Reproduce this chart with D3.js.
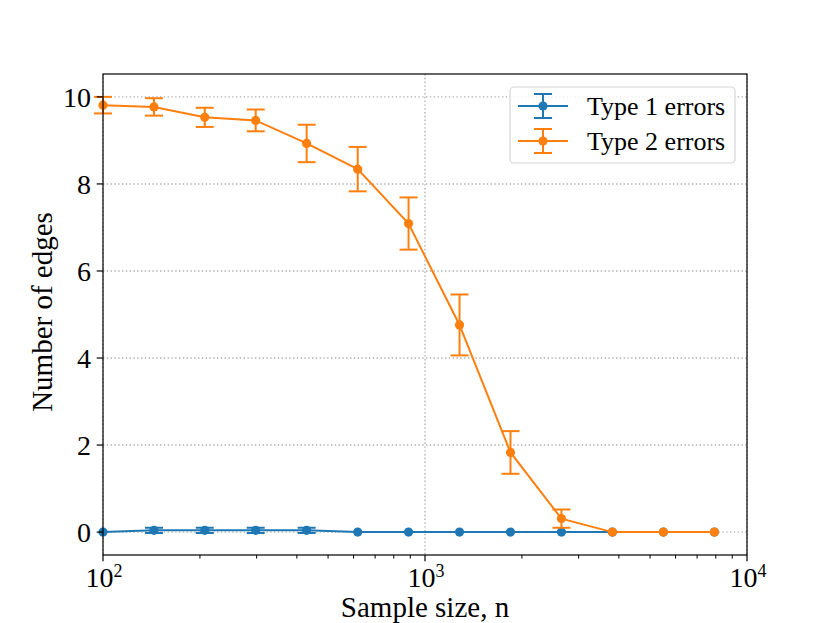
<!DOCTYPE html>
<html><head><meta charset="utf-8">
<script src="https://cdn.jsdelivr.net/npm/d3@7"></script>
<style>body{margin:0;background:#fff}svg{display:block}text{font-family:"Liberation Serif","DejaVu Serif",serif;fill:#000}</style>
</head><body><svg id="c" width="830" height="623"></svg>
<script>
const sampleSizes = [100, 144, 207, 298, 429, 618, 889, 1280, 1843, 2653, 3820, 5500, 7920];
const type1Mean = [0, 0.04, 0.04, 0.04, 0.04, 0, 0, 0, 0, 0, 0, 0, 0];
const type1Err  = [0, 0.06, 0.06, 0.06, 0.06, 0, 0, 0, 0, 0, 0, 0, 0];
const type2Mean = [9.81, 9.77, 9.53, 9.46, 8.93, 8.34, 7.09, 4.76, 1.83, 0.31, 0, 0, 0];
const type2Err  = [0.19, 0.2, 0.22, 0.25, 0.43, 0.51, 0.6, 0.7, 0.49, 0.21, 0, 0, 0];
const yTicks = [0, 2, 4, 6, 8, 10];
const xMajor = [100, 1000, 10000];
const seriesNames = ["Type 1 errors", "Type 2 errors"];
const colors = ["#1f77b4", "#ff7f0e"];

const L = 103, R = 747, T = 74, B = 555;
const svg = d3.select("#c");
const x = d3.scaleLog().domain([100, 10000]).range([L, R]);
const y = d3.scaleLinear().domain([-0.526, 10.526]).range([B, T]);

// grid
const grid = svg.append("g").attr("stroke", "#b0b0b0").attr("stroke-width", 1.4).attr("stroke-dasharray", "1.4,2.4");
yTicks.forEach(v => grid.append("line").attr("x1", L).attr("x2", R).attr("y1", y(v)).attr("y2", y(v)));
xMajor.forEach(v => grid.append("line").attr("x1", x(v)).attr("x2", x(v)).attr("y1", T).attr("y2", B));

// series
const series = [
  {name: seriesNames[0], mean: type1Mean, err: type1Err, color: colors[0]},
  {name: seriesNames[1], mean: type2Mean, err: type2Err, color: colors[1]}
];
const line = d3.line().x((d) => x(d[0])).y(d => y(d[1]));
series.forEach(s => {
  const g = svg.append("g");
  const pts = sampleSizes.map((n, i) => [n, s.mean[i], s.err[i]]);
  g.append("path").attr("d", line(pts)).attr("fill", "none").attr("stroke", s.color).attr("stroke-width", 2);
  pts.forEach(p => {
    if (p[2] > 0) {
      const cx = x(p[0]), y1 = y(p[1] - p[2]), y2 = y(p[1] + p[2]);
      g.append("line").attr("x1", cx).attr("x2", cx).attr("y1", y1).attr("y2", y2).attr("stroke", s.color).attr("stroke-width", 2);
      [y1, y2].forEach(yy => g.append("line").attr("x1", cx - 9).attr("x2", cx + 9).attr("y1", yy).attr("y2", yy).attr("stroke", s.color).attr("stroke-width", 2));
    }
    g.append("circle").attr("cx", x(p[0])).attr("cy", y(p[1])).attr("r", 4.6).attr("fill", s.color);
  });
});

// frame
svg.append("rect").attr("x", L).attr("y", T).attr("width", R - L).attr("height", B - T).attr("fill", "none").attr("stroke", "#000").attr("stroke-width", 1.2);

// x ticks
const xt = svg.append("g");
const minor = [];
[100, 1000].forEach(d => { for (let k = 2; k <= 9; k++) minor.push(d * k); });
minor.forEach(v => xt.append("line").attr("x1", x(v)).attr("x2", x(v)).attr("y1", B).attr("y2", B + 3.6).attr("stroke", "#000").attr("stroke-width", 1));
xMajor.forEach(v => {
  xt.append("line").attr("x1", x(v)).attr("x2", x(v)).attr("y1", B).attr("y2", B + 6.3).attr("stroke", "#000").attr("stroke-width", 1.2);
  const t = xt.append("text").attr("x", x(v) + 1).attr("y", 587).attr("text-anchor", "middle").attr("font-size", 28);
  t.append("tspan").text("10");
  t.append("tspan").attr("dy", -10).attr("font-size", 18).text(Math.round(Math.log10(v)));
});
// y ticks
yTicks.forEach(v => {
  svg.append("line").attr("x1", L - 6.3).attr("x2", L).attr("y1", y(v)).attr("y2", y(v)).attr("stroke", "#000").attr("stroke-width", 1.2);
  svg.append("text").attr("x", 91).attr("y", y(v) + 10).attr("text-anchor", "end").attr("font-size", 28).text(v);
});

// axis labels
svg.append("text").attr("x", 425).attr("y", 617).attr("text-anchor", "middle").attr("font-size", 29).text("Sample size, n");
svg.append("text").attr("transform", "translate(52,312) rotate(-90)").attr("text-anchor", "middle").attr("font-size", 29).text("Number of edges");

// legend
const lg = svg.append("g");
lg.append("rect").attr("x", 510).attr("y", 87).attr("width", 225).attr("height", 76).attr("rx", 4).attr("fill", "#fff").attr("fill-opacity", 0.8).attr("stroke", "#d6d6d6").attr("stroke-width", 1.2);
series.forEach((s, i) => {
  const cy = 106 + i * 35;
  lg.append("line").attr("x1", 518).attr("x2", 568).attr("y1", cy).attr("y2", cy).attr("stroke", s.color).attr("stroke-width", 2);
  lg.append("line").attr("x1", 543).attr("x2", 543).attr("y1", cy - 12).attr("y2", cy + 12).attr("stroke", s.color).attr("stroke-width", 2);
  [cy - 12, cy + 12].forEach(yy => lg.append("line").attr("x1", 534).attr("x2", 552).attr("y1", yy).attr("y2", yy).attr("stroke", s.color).attr("stroke-width", 2));
  lg.append("circle").attr("cx", 543).attr("cy", cy).attr("r", 4.6).attr("fill", s.color);
  lg.append("text").attr("x", 587).attr("y", cy + 9).attr("font-size", 26).text(s.name);
});
</script></body></html>
